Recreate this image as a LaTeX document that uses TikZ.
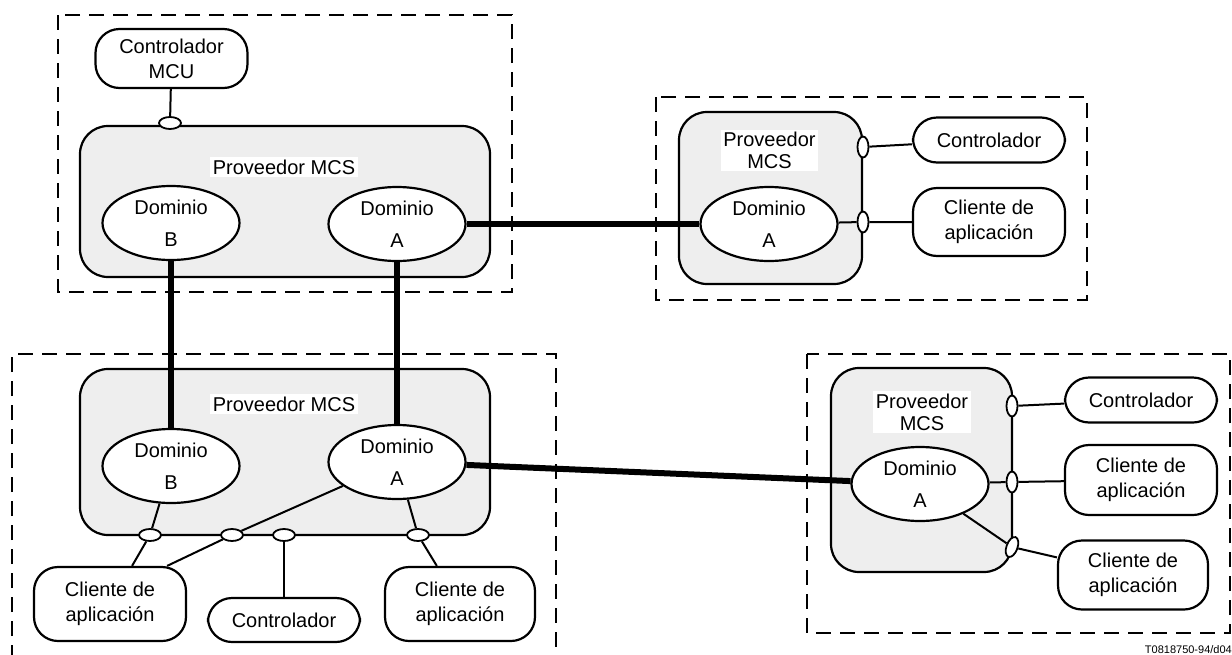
\documentclass[tikz,border=0pt]{standalone}
\usepackage{fontspec}
\setmainfont{Liberation Sans}
\usetikzlibrary{
  shapes.geometric
}
\definecolor{boxgray}{RGB}{238,238,238}

\begin{document}
\begin{tikzpicture}[
  x=1pt,
  y=-1pt,
  font=\fontsize{20}{25}\selectfont,
  group/.style={
    draw,
    dash pattern=on 15pt off 9pt,
    line width=2.2pt,
  },
  provider/.style={
    draw,
    rectangle,
    rounded corners=28pt,
    fill=boxgray,
    line width=2.2pt,
  },
  caption/.style={
    fill=white,
    inner sep=2.5pt,
    align=center,
    font=\fontsize{20}{22}\selectfont,
  },
  dominio/.style={
    draw,
    ellipse,
    fill=white,
    line width=2.2pt,
    minimum width=137pt,
    minimum height=74pt,
    inner sep=0pt,
    align=center,
    font=\fontsize{20}{32}\selectfont,
  },
  client/.style={
    draw,
    rectangle,
    rounded corners=24pt,
    fill=white,
    line width=2.2pt,
    minimum width=152pt,
    inner sep=0pt,
    align=center,
  },
  port/.style={
    draw,
    ellipse,
    fill=white,
    line width=1.8pt,
    minimum width=22pt,
    minimum height=12pt,
    inner sep=0pt,
  },
  vport/.style={
    port,
    minimum width=11pt,
    minimum height=21pt,
  },
  link/.style={line width=2pt},
  trunk/.style={line width=6pt},
]
\useasboundingbox (0,0) rectangle (1232,654);

% Groups
\draw[group] (58,15) rectangle (512,292);
\draw[group] (656,97) rectangle (1087,300);
\draw[group] (12,660) |- (556,354) -- (556,660);
\draw[group] (807,354) rectangle (1230,633);

% Providers
\node[provider, minimum width=410pt, minimum height=151pt] (prov1) at (285,201.5) {};
\node[provider, minimum width=183pt, minimum height=172pt] (prov2) at (770.5,198) {};
\node[provider, minimum width=410pt, minimum height=166pt] (prov3) at (285,452) {};
\node[provider, minimum width=181pt, minimum height=204pt] (prov4) at (921.5,470) {};
\node[caption] (lab1) at (284,167) {Proveedor MCS};
\node[caption] (lab2) at (769.5,150.5) {Proveedor\\MCS};
\node[caption] (lab3) at (284,404) {Proveedor MCS};
\node[caption] (lab4) at (922,412) {Proveedor\\MCS};

% Domains
\node[dominio] (dB1) at (171,223) {Dominio\\B};
\node[dominio] (dA1) at (397,224) {Dominio\\A};
\node[dominio] (dA3) at (769,224) {Dominio\\A};
\node[dominio] (dB2) at (171,466) {Dominio\\B};
\node[dominio] (dA2) at (397,462) {Dominio\\A};
\node[dominio] (dA4) at (920,484) {Dominio\\A};

% Clients
\node[client, minimum height=59pt] (c0) at (171.5,58.5) {Controlador\\MCU};
\node[client, minimum height=45pt] (c4) at (989,140) {Controlador};
\node[client, minimum height=68pt] (c5) at (989,222) {Cliente de\\aplicaci\'on};
\node[client, minimum height=74pt] (c1) at (110,604) {Cliente de\\aplicaci\'on};
\node[client, minimum height=44pt] (c2) at (284,620) {Controlador};
\node[client, minimum height=74pt, minimum width=150pt] (c3) at (460,604) {Cliente de\\aplicaci\'on};
\node[client, minimum height=45pt] (c6) at (1141,400) {Controlador};
\node[client, minimum height=70pt] (c7) at (1141,480) {Cliente de\\aplicaci\'on};
\node[client, minimum height=69pt, minimum width=150pt] (c8) at (1133,575) {Cliente de\\aplicaci\'on};

% Ports
\node[port] (p0) at (170,123) {};
\node[vport] (q1) at (863,147) {};
\node[vport] (q2) at (863,222) {};
\node[port] (p1) at (150,535) {};
\node[port] (p2) at (232,535) {};
\node[port] (p3) at (284,535) {};
\node[port] (p4) at (418,535) {};
\node[vport] (r1) at (1012,406) {};
\node[vport] (r2) at (1012,482) {};
\node[vport, rotate=-20] (r3) at (1012,547) {};

% Links
\draw[link] (c0) -- (p0);
\draw[link] (q1) -- (c4);
\draw[link] (dA3) -- (q2) -- (c5);
\draw[link] (dB2) -- (p1) -- (c1);
\draw[link] (dA2) -- (p2) -- ([xshift=-20pt]c1.north east);
\draw[link] (p3) -- (c2);
\draw[link] (dA2) -- (p4) -- (c3);
\draw[link] (r1) -- (c6);
\draw[link] (dA4) -- (r2) -- (c7);
\draw[link] (dA4) -- (r3) -- (c8);

% Trunks
\draw[trunk] (dA1) -- (dA3);
\draw[trunk] (dB1) -- (dB2);
\draw[trunk] (dA1) -- (dA2);
\draw[trunk] (dA2) -- (dA4);

\node[anchor=south east, inner sep=0pt, font=\fontsize{11}{13}\selectfont] (ref) at (1232,654) {T0818750-94/d04};
\end{tikzpicture}
\end{document}
